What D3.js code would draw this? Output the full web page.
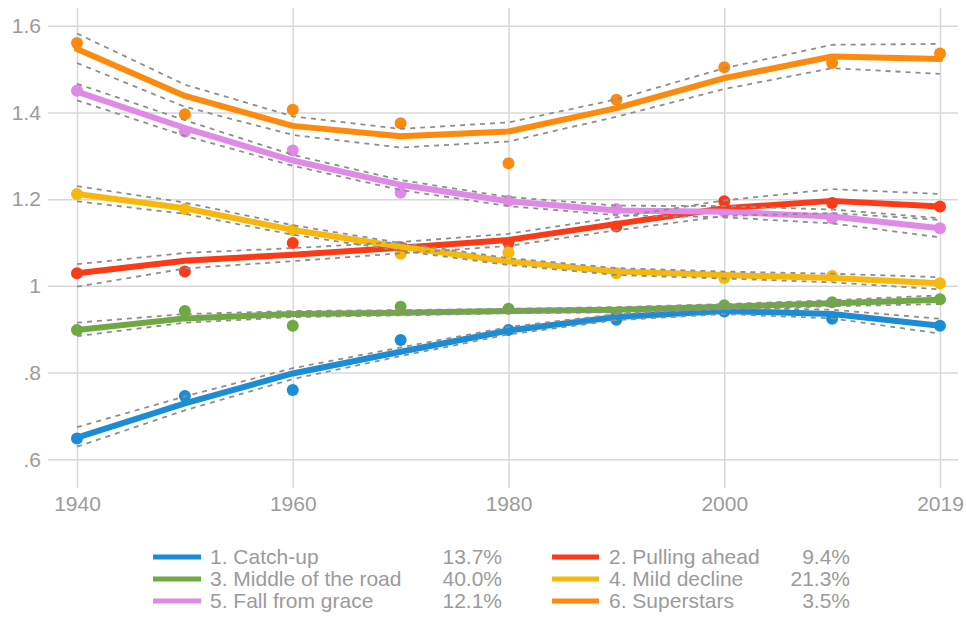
<!DOCTYPE html>
<html>
<head>
<meta charset="utf-8">
<script src="https://cdn.jsdelivr.net/npm/d3@7"></script>
<style>
  html, body { margin: 0; padding: 0; background: #fff; }
  svg { display: block; font-family: "Liberation Sans", Arial, Helvetica, sans-serif; }
</style>
</head>
<body>
<svg id="chart" width="966" height="617"></svg>
<script>
// Periods on the x axis (last period is 2019)
const periods = ["1940", "1950", "1960", "1970", "1980", "1990", "2000", "2010", "2019"];
const xTickLabels = ["1940", "1960", "1980", "2000", "2019"];
const yTickValues = [0.6, 0.8, 1.0, 1.2, 1.4, 1.6];
const yTickLabels = [".6", ".8", "1", "1.2", "1.4", "1.6"];

// Group names and shares
const groupNames = ["1. Catch-up", "2. Pulling ahead", "3. Middle of the road", "4. Mild decline", "5. Fall from grace", "6. Superstars"];
const groupShares = ["13.7%", "9.4%", "40.0%", "21.3%", "12.1%", "3.5%"];
const groupColors = ["#1a8dd6", "#fb3b17", "#6ea942", "#f6b80c", "#df8ae6", "#fb8a0e"];

// Observed group means
const catchUpObs   = [0.648, 0.746, 0.760, 0.875, 0.898, 0.922, 0.941, 0.924, 0.908];
const pullingObs   = [1.029, 1.033, 1.099, 1.089, 1.099, 1.137, 1.195, 1.191, 1.183];
const middleObs    = [0.898, 0.942, 0.908, 0.952, 0.947, 0.933, 0.955, 0.962, 0.969];
const mildObs      = [1.212, 1.177, 1.129, 1.074, 1.077, 1.029, 1.018, 1.023, 1.006];
const fallObs      = [1.450, 1.356, 1.312, 1.215, 1.196, 1.177, 1.171, 1.156, 1.133];
const superObs     = [1.560, 1.396, 1.406, 1.375, 1.283, 1.429, 1.504, 1.514, 1.536];

// Fitted trajectories
const catchUpFit   = [0.650, 0.729, 0.798, 0.848, 0.897, 0.928, 0.942, 0.935, 0.908];
const pullingFit   = [1.029, 1.058, 1.072, 1.088, 1.106, 1.143, 1.179, 1.196, 1.183];
const middleFit    = [0.898, 0.925, 0.935, 0.938, 0.942, 0.945, 0.952, 0.960, 0.968];
const mildFit      = [1.212, 1.179, 1.129, 1.090, 1.056, 1.033, 1.025, 1.018, 1.006];
const fallFit      = [1.448, 1.364, 1.289, 1.233, 1.195, 1.174, 1.171, 1.160, 1.133];
const superFit     = [1.546, 1.438, 1.369, 1.345, 1.356, 1.410, 1.479, 1.529, 1.523];

// Confidence bounds of the fitted trajectories
const catchUpLo    = [0.629, 0.713, 0.785, 0.838, 0.888, 0.921, 0.935, 0.925, 0.890];
const catchUpHi    = [0.674, 0.745, 0.810, 0.858, 0.905, 0.935, 0.949, 0.945, 0.924];
const pullingLo    = [0.998, 1.040, 1.057, 1.075, 1.092, 1.128, 1.161, 1.168, 1.152];
const pullingHi    = [1.050, 1.076, 1.087, 1.101, 1.120, 1.158, 1.197, 1.223, 1.212];
const middleLo     = [0.884, 0.915, 0.928, 0.932, 0.937, 0.939, 0.946, 0.953, 0.958];
const middleHi     = [0.915, 0.935, 0.942, 0.944, 0.947, 0.951, 0.958, 0.967, 0.978];
const mildLo       = [1.195, 1.166, 1.118, 1.081, 1.048, 1.025, 1.017, 1.008, 0.992];
const mildHi       = [1.230, 1.192, 1.140, 1.099, 1.064, 1.041, 1.033, 1.028, 1.020];
const fallLo       = [1.428, 1.346, 1.277, 1.221, 1.184, 1.163, 1.158, 1.144, 1.112];
const fallHi       = [1.466, 1.382, 1.302, 1.244, 1.205, 1.185, 1.184, 1.176, 1.156];
const superLo      = [1.514, 1.413, 1.348, 1.319, 1.333, 1.390, 1.454, 1.502, 1.489];
const superHi      = [1.582, 1.464, 1.391, 1.362, 1.377, 1.430, 1.502, 1.556, 1.558];

const groups = [
  { obs: catchUpObs, fit: catchUpFit, lo: catchUpLo, hi: catchUpHi },
  { obs: pullingObs, fit: pullingFit, lo: pullingLo, hi: pullingHi },
  { obs: middleObs,  fit: middleFit,  lo: middleLo,  hi: middleHi },
  { obs: mildObs,    fit: mildFit,    lo: mildLo,    hi: mildHi },
  { obs: fallObs,    fit: fallFit,    lo: fallLo,    hi: fallHi },
  { obs: superObs,   fit: superFit,   lo: superLo,   hi: superHi }
].map((g, i) => ({ ...g, name: groupNames[i], share: groupShares[i], color: groupColors[i] }));

const svg = d3.select("#chart");
const plot = { left: 48, right: 958, top: 8, bottom: 488 };

const x = d3.scalePoint().domain(periods).range([77, 940]);
const y = d3.scaleLinear().domain([0.6, 1.6]).range([459.3, 25.7]);

const gridColor = "#d8d8d8";
const labelColor = "#9b9b9b";

// Horizontal grid + y labels
const yAxis = d3.axisLeft(y)
  .tickValues(yTickValues)
  .tickFormat((d, i) => yTickLabels[i])
  .tickSize(-(plot.right - plot.left))
  .tickPadding(6);
svg.append("g")
  .attr("transform", `translate(${plot.left},0)`)
  .call(yAxis)
  .call(g => g.select(".domain").remove())
  .call(g => g.selectAll(".tick line").attr("stroke", gridColor).attr("stroke-width", 1.5))
  .call(g => g.selectAll(".tick text")
    .attr("fill", labelColor).attr("font-size", 21).attr("x", -7)
    .attr("font-family", "Liberation Sans, Arial, sans-serif"));

// Vertical grid + x labels
const xAxis = d3.axisBottom(x)
  .tickValues(xTickLabels)
  .tickSize(-(plot.bottom - plot.top))
  .tickPadding(8);
svg.append("g")
  .attr("transform", `translate(0,${plot.bottom})`)
  .call(xAxis)
  .call(g => g.select(".domain").remove())
  .call(g => g.selectAll(".tick line").attr("stroke", gridColor).attr("stroke-width", 1.5))
  .call(g => g.selectAll(".tick text")
    .attr("fill", labelColor).attr("font-size", 21)
    .attr("font-family", "Liberation Sans, Arial, sans-serif"));

const line = () => d3.line()
  .x((d, i) => x(periods[i]))
  .y(d => y(d));

// Observed points
groups.forEach(g => {
  svg.append("g").selectAll("circle")
    .data(g.obs)
    .join("circle")
    .attr("cx", (d, i) => x(periods[i]))
    .attr("cy", d => y(d))
    .attr("r", 6)
    .attr("fill", g.color);
});

// Fitted lines
groups.forEach(g => {
  svg.append("path")
    .datum(g.fit)
    .attr("d", line())
    .attr("fill", "none")
    .attr("stroke", g.color)
    .attr("stroke-width", 6)
    .attr("stroke-linejoin", "round")
    .attr("stroke-linecap", "round");
});

// Confidence bounds
groups.forEach(g => {
  [g.lo, g.hi].forEach(b => {
    svg.append("path")
      .datum(b)
      .attr("d", line())
      .attr("fill", "none")
      .attr("stroke", "#8e8e8e")
      .attr("stroke-width", 1.8)
      .attr("stroke-dasharray", "5,5");
  });
});

// Legend: two columns, three rows
const legend = svg.append("g");
const cols = [
  { sw0: 153, sw1: 201, text: 210, pct: 502 },
  { sw0: 552, sw1: 599, text: 609, pct: 850 }
];
const rowY = [557, 579, 601];
groups.forEach((g, i) => {
  const c = cols[i % 2];
  const ry = rowY[Math.floor(i / 2)];
  legend.append("line")
    .attr("x1", c.sw0).attr("x2", c.sw1)
    .attr("y1", ry).attr("y2", ry)
    .attr("stroke", g.color).attr("stroke-width", 5);
  legend.append("text")
    .attr("x", c.text).attr("y", ry)
    .attr("dy", "0.35em")
    .attr("font-size", 21).attr("fill", labelColor)
    .text(g.name);
  legend.append("text")
    .attr("x", c.pct).attr("y", ry)
    .attr("dy", "0.35em")
    .attr("text-anchor", "end")
    .attr("font-size", 21).attr("fill", labelColor)
    .text(g.share);
});
</script>
</body>
</html>
